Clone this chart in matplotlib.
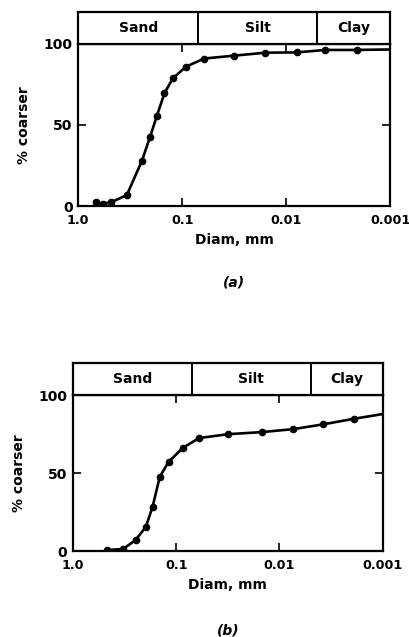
import numpy as np
import matplotlib
matplotlib.use("Agg")
import matplotlib.pyplot as plt

plt.rcParams['font.family'] = ['DejaVu Sans']
plt.rcParams['font.weight'] = 'bold'

# --- data ---
# (a)
diam_a = [0.67, 0.58, 0.48, 0.34, 0.244, 0.203, 0.175, 0.148, 0.123, 0.0916,
          0.0615, 0.0314, 0.0159, 0.0079, 0.0042, 0.0021]
coarser_a = [2.3, 1.5, 2.3, 6.8, 27.8, 42.8, 55.6, 69.5, 78.8, 86.0,
             91.0, 92.8, 94.6, 94.8, 96.3, 96.3]
end_a = (0.001, 96.6)

# (b)
diam_b = [0.47, 0.326, 0.247, 0.196, 0.169, 0.144, 0.118, 0.0865, 0.0601,
          0.0313, 0.0149, 0.0074, 0.00377, 0.00189]
coarser_b = [0.6, 1.3, 7.0, 15.6, 28.4, 47.6, 57.2, 66.0, 72.4,
             74.9, 76.2, 78.1, 81.2, 84.8]
end_b = (0.001, 87.8)

# soil classes (boundaries in mm)
classes = ['Sand', 'Silt', 'Clay']
bounds = [1.0, 0.07, 0.005, 0.001]

xticks = [1.0, 0.1, 0.01, 0.001]
xticklabels = ['1.0', '0.1', '0.01', '0.001']
yticks = [0, 50, 100]

fig = plt.figure(figsize=(4.09, 6.37), dpi=100)


def panel(main_rect, head_rect, diam, coarser, end, caption, cap_y):
    ax = fig.add_axes(main_rect)
    hd = fig.add_axes(head_rect, sharex=ax)

    ax.plot(list(diam) + [end[0]], list(coarser) + [end[1]], color='black', lw=1.9)
    ax.plot(diam, coarser, 'o', color='black', ms=4.5)

    ax.set_xscale('log')
    ax.set_xlim(1.0, 0.001)
    ax.set_ylim(0, 100)
    ax.minorticks_off()
    ax.set_xticks(xticks)
    ax.set_xticklabels(xticklabels)
    ax.set_yticks(yticks)
    ax.tick_params(direction='in', length=6, width=1.2, top=True, right=True,
                   labelsize=10, pad=4)
    ax.tick_params(axis='x', pad=6, labelsize=9.2)
    for s in ax.spines.values():
        s.set_linewidth(1.6)
    ax.set_xlabel('Diam, mm', fontsize=10, fontweight='bold', labelpad=4)
    ax.set_ylabel('% coarser', fontsize=10, fontweight='bold', labelpad=9)

    # header strip with the soil classes
    hd.set_ylim(0, 1)
    for b in bounds[1:-1]:
        hd.axvline(b, color='black', lw=1.4)
    for name, lo, hi in zip(classes, bounds[:-1], bounds[1:]):
        hd.text(np.sqrt(lo * hi), 0.5, name, ha='center', va='center',
                fontsize=10, fontweight='bold')
    hd.tick_params(left=False, bottom=False, labelleft=False, labelbottom=False)
    hd.minorticks_off()
    for s in hd.spines.values():
        s.set_linewidth(1.6)

    fig.text(main_rect[0] + main_rect[2] / 2, cap_y, caption, ha='center',
             va='center', fontsize=10, style='italic', fontweight='bold')


panel([0.191, 0.6766, 0.763, 0.2544], [0.191, 0.931, 0.763, 0.050],
      diam_a, coarser_a, end_a, '(a)', 1 - 283 / 637)
panel([0.178, 0.135, 0.758, 0.2449], [0.178, 0.3799, 0.758, 0.0505],
      diam_b, coarser_b, end_b, '(b)', 1 - 631 / 637)

fig.savefig('out.png', dpi=100)
